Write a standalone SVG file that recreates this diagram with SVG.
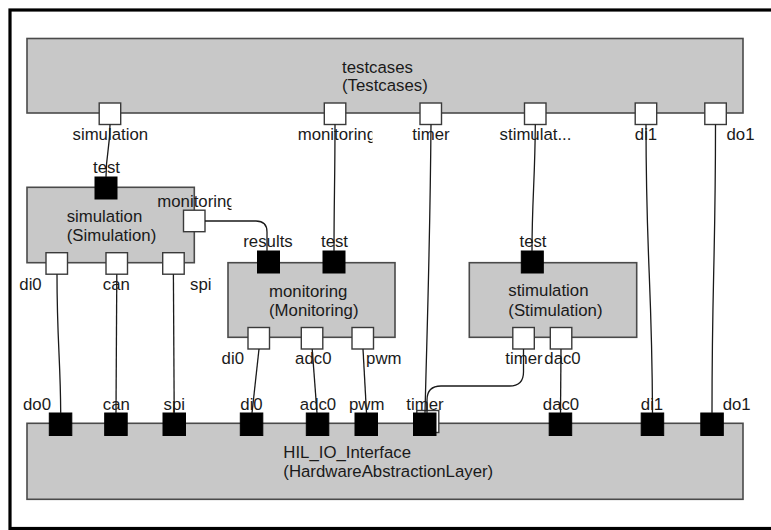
<svg xmlns="http://www.w3.org/2000/svg" width="771" height="530" viewBox="0 0 771 530">
<style>
text{font-family:"Liberation Sans",Arial,sans-serif;font-size:16.8px;fill:#1a1a1a}
.box{fill:#c8c8c8;stroke:#4a4a4a;stroke-width:1.6}
.pin{fill:#fff;stroke:#3a3a3a;stroke-width:1.4}
.pout{fill:#000;stroke:#000;stroke-width:1}
.lbl{text-anchor:middle}
.conn path{fill:none;stroke:#1a1a1a;stroke-width:1.3}
</style>
<defs>
<clipPath id="clipTcMon"><rect x="290" y="125" width="82.5" height="25"/></clipPath>
<clipPath id="clipSimMon"><rect x="150" y="190" width="81.5" height="22"/></clipPath>
</defs>
<rect width="771" height="530" fill="#fff"/>
<rect x="10" y="10" width="800" height="518.5" fill="none" stroke="#000" stroke-width="3.2"/>

<g id="testcases">
<rect class="box" x="27" y="38.5" width="716" height="74.5"/>
<text x="342" y="72.7">testcases</text>
<text x="342" y="91">(Testcases)</text>
<rect class="pin" x="99.2" y="103" width="21.5" height="21.5"/>
<rect class="pin" x="324.3" y="103" width="21.5" height="21.5"/>
<rect class="pin" x="420" y="103" width="21.5" height="21.5"/>
<rect class="pin" x="524.5" y="103" width="21.5" height="21.5"/>
<rect class="pin" x="635.2" y="103" width="21.5" height="21.5"/>
<rect class="pin" x="704.8" y="103" width="21.5" height="21.5"/>
<text class="lbl" x="110.3" y="140">simulation</text>
<text x="297.7" y="140" clip-path="url(#clipTcMon)">monitoring</text>
<text class="lbl" x="431" y="140">timer</text>
<text class="lbl" x="535.5" y="140">stimulat...</text>
<text class="lbl" x="646" y="140">di1</text>
<text class="lbl" x="740.5" y="140">do1</text>
</g>

<g id="simulation">
<rect class="box" x="27" y="187.3" width="167.3" height="75.4"/>
<text x="66.7" y="221.7">simulation</text>
<text x="66.7" y="240.7">(Simulation)</text>
<rect class="pout" x="95" y="177" width="22" height="22"/>
<text class="lbl" x="106.5" y="172.7">test</text>
<rect class="pin" x="183.5" y="210.2" width="21.5" height="21.5"/>
<text x="157.3" y="207.3" clip-path="url(#clipSimMon)">monitoring</text>
<rect class="pin" x="46" y="252.7" width="21.5" height="21.5"/>
<rect class="pin" x="106" y="252.7" width="21.5" height="21.5"/>
<rect class="pin" x="162.7" y="252.7" width="21.5" height="21.5"/>
<text class="lbl" x="30.5" y="290">di0</text>
<text class="lbl" x="116.3" y="290">can</text>
<text class="lbl" x="200.8" y="290">spi</text>
</g>

<g id="monitoring">
<rect class="box" x="228" y="262.7" width="167" height="74.6"/>
<text x="269" y="296.5">monitoring</text>
<text x="269" y="315.5">(Monitoring)</text>
<rect class="pout" x="257.5" y="251" width="22" height="22"/>
<rect class="pout" x="323" y="251" width="22" height="22"/>
<text class="lbl" x="268" y="246.7">results</text>
<text class="lbl" x="334.5" y="246.7">test</text>
<rect class="pin" x="248" y="327.5" width="21.5" height="21.5"/>
<rect class="pin" x="301.3" y="327.5" width="21.5" height="21.5"/>
<rect class="pin" x="352" y="327.5" width="21.5" height="21.5"/>
<text class="lbl" x="232.8" y="364">di0</text>
<text class="lbl" x="313.3" y="364">adc0</text>
<text class="lbl" x="383.8" y="364">pwm</text>
</g>

<g id="stimulation">
<rect class="box" x="469.3" y="262.7" width="167.4" height="74.6"/>
<text x="508.3" y="296">stimulation</text>
<text x="508.3" y="315.5">(Stimulation)</text>
<rect class="pout" x="521.3" y="251" width="22" height="22"/>
<text class="lbl" x="533" y="247.3">test</text>
<rect class="pin" x="512.8" y="327.5" width="21.5" height="21.5"/>
<rect class="pin" x="550.3" y="327.5" width="21.5" height="21.5"/>
<text class="lbl" x="524" y="364.3">timer</text>
<text class="lbl" x="562.5" y="364.3">dac0</text>
</g>

<g id="HIL_IO_Interface">
<rect class="box" x="27" y="423.3" width="716" height="76"/>
<text x="283.3" y="458.3">HIL_IO_Interface</text>
<text x="283.3" y="477">(HardwareAbstractionLayer)</text>
<rect class="pout" x="49.3" y="413" width="22.5" height="22.5"/>
<rect class="pout" x="104.7" y="413" width="22.5" height="22.5"/>
<rect class="pout" x="163" y="413" width="22.5" height="22.5"/>
<rect class="pout" x="240.3" y="413" width="22.5" height="22.5"/>
<rect class="pout" x="306.3" y="413" width="22.5" height="22.5"/>
<rect class="pout" x="355" y="413" width="22.5" height="22.5"/>
<rect class="pin" x="416.8" y="410.5" width="22" height="22"/>
<rect class="pout" x="413.5" y="413" width="22.5" height="22.5"/>
<rect class="pout" x="549.2" y="413" width="22.5" height="22.5"/>
<rect class="pout" x="641.2" y="413" width="22.5" height="22.5"/>
<rect class="pout" x="700.8" y="413" width="22.5" height="22.5"/>
<text class="lbl" x="37" y="410">do0</text>
<text class="lbl" x="116.3" y="410">can</text>
<text class="lbl" x="174.3" y="410">spi</text>
<text class="lbl" x="251.5" y="410">di0</text>
<text class="lbl" x="318" y="410">adc0</text>
<text class="lbl" x="366.7" y="410">pwm</text>
<text class="lbl" x="425" y="410">timer</text>
<text class="lbl" x="561" y="410">dac0</text>
<text class="lbl" x="652" y="410">di1</text>
<text class="lbl" x="736.7" y="410">do1</text>
</g>

<g id="connectors" class="conn">
<path d="M110,124.5 C110,150 106,152 106,177"/>
<path d="M335,124.5 C335,180 334,200 334,251"/>
<path d="M431,124.5 C430,250 427,330 425,413"/>
<path d="M535.3,124.5 C535,180 532,200 532,251"/>
<path d="M646,124.5 C646,260 652,280 652.5,413"/>
<path d="M715.5,124.5 C715.5,260 712,280 712,413" stroke="#555"/>
<path d="M205,221 L256,221 Q267,221 267,232 L267,251"/>
<path d="M57,274.2 C57,340 60.5,360 60.7,413"/>
<path d="M116.8,274.2 L116,413"/>
<path d="M173.4,274.2 L174.2,413"/>
<path d="M259,349 L252,413"/>
<path d="M312.2,349 L317,413"/>
<path d="M363,349 L366.5,413"/>
<path d="M523.5,349 L523.5,372 Q523.5,386 509.5,386 L441,386 Q427,386 427,400 L427,413"/>
<path d="M561,349 L560.5,413"/>
</g>
</svg>
